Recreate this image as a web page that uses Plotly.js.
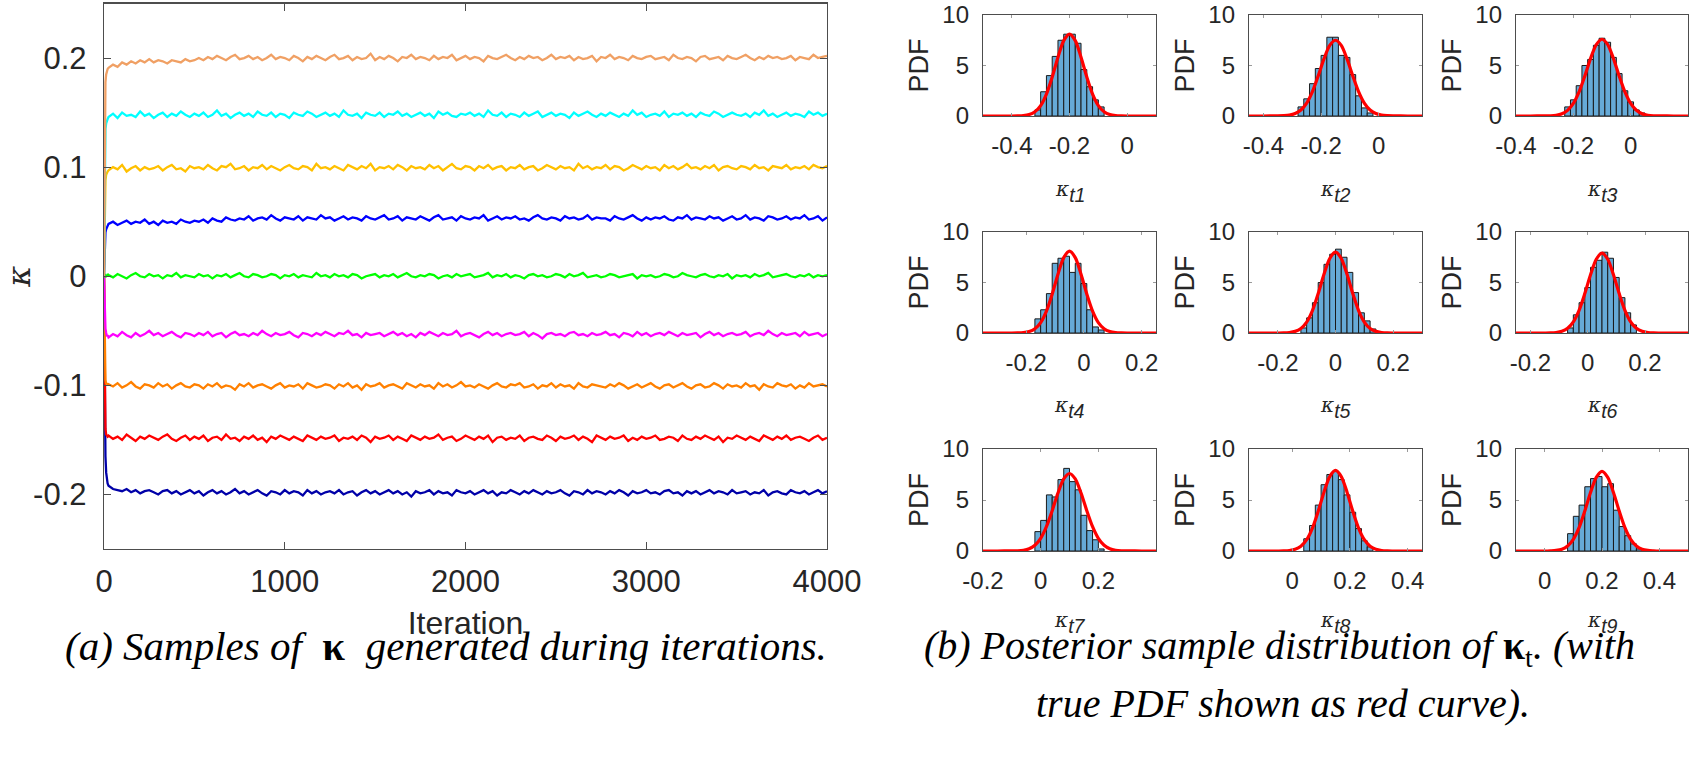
<!DOCTYPE html>
<html>
<head>
<meta charset="utf-8">
<script src="https://cdn.plot.ly/plotly-3.0.1.min.js"></script>
<style>
  html, body { margin: 0; padding: 0; background: #ffffff; }
  #chart { width: 1693px; height: 761px; }
</style>
</head>
<body>
<div id="chart"></div>
<script>
// ---------- (a) MCMC chains of kappa, values in units of 1e-3 ----------
const iterations = [0, 4, 8, 12, 16, 20];
for (let it = 25; it <= 4000; it += 25) iterations.push(it);

const chainT1 = [0,-120,-165,-180,-186,-190,
-192,-195,-196,-197,-195,-198,-196,-199,-197,-196,
-198,-200,-197,-196,-199,-197,-200,-198,-196,-199,
-197,-201,-198,-196,-199,-197,-200,-198,-195,-199,
-197,-200,-198,-196,-199,-201,-197,-198,-200,-196,
-199,-197,-198,-201,-196,-199,-197,-200,-198,-197,
-199,-196,-200,-198,-197,-201,-198,-196,-199,-197,
-200,-198,-196,-199,-197,-200,-198,-202,-197,-199,
-198,-196,-200,-197,-199,-198,-201,-196,-198,-199,
-197,-200,-198,-196,-199,-197,-201,-198,-199,-196,
-198,-200,-197,-199,-196,-198,-200,-197,-199,-198,
-196,-199,-201,-197,-198,-200,-196,-199,-197,-198,
-200,-197,-199,-196,-198,-201,-197,-199,-198,-196,
-199,-198,-200,-197,-196,-199,-198,-201,-197,-199,
-197,-200,-198,-196,-199,-197,-198,-200,-196,-199,
-198,-197,-200,-198,-199,-196,-201,-198,-197,-199,
-200,-196,-198,-199,-197,-200,-198,-196,-199,-197];

const chainT2 = [0,-110,-140,-145,-146,-147,
-146,-149,-147,-150,-145,-148,-151,-147,-149,-146,
-148,-150,-147,-145,-149,-151,-148,-146,-150,-147,
-149,-146,-151,-148,-147,-150,-145,-149,-148,-151,
-147,-149,-146,-150,-148,-152,-147,-149,-146,-148,
-150,-147,-149,-151,-146,-148,-150,-147,-149,-148,
-146,-151,-148,-149,-147,-150,-146,-148,-152,-147,
-149,-148,-146,-150,-147,-149,-151,-146,-148,-150,
-147,-149,-148,-145,-150,-148,-147,-151,-149,-146,
-148,-150,-147,-149,-146,-152,-148,-147,-150,-148,
-149,-146,-151,-148,-147,-149,-150,-146,-148,-151,
-147,-149,-148,-146,-150,-147,-149,-152,-146,-148,
-150,-147,-149,-148,-146,-151,-148,-150,-147,-149,
-148,-146,-150,-149,-147,-148,-151,-146,-149,-150,
-147,-149,-146,-148,-150,-147,-152,-148,-149,-146,
-148,-150,-147,-149,-151,-146,-148,-150,-147,-149,
-146,-150,-148,-147,-149,-151,-148,-146,-150,-148];

const chainT3 = [0,-75,-95,-99,-98,-100,
-99,-101,-98,-102,-100,-97,-101,-103,-99,-100,
-102,-98,-101,-99,-103,-100,-98,-101,-102,-99,
-100,-103,-99,-101,-98,-102,-100,-101,-104,-99,
-101,-98,-102,-100,-99,-101,-103,-100,-98,-102,
-100,-101,-99,-103,-98,-100,-102,-101,-99,-100,
-103,-99,-101,-98,-102,-100,-104,-99,-101,-100,
-98,-102,-100,-99,-101,-103,-98,-100,-102,-99,
-101,-100,-103,-98,-101,-99,-102,-100,-97,-101,
-100,-102,-99,-101,-103,-100,-98,-101,-102,-99,
-100,-98,-102,-101,-99,-103,-100,-101,-98,-102,
-99,-101,-100,-103,-98,-101,-102,-99,-100,-101,
-102,-99,-101,-98,-100,-103,-101,-99,-102,-100,
-98,-101,-103,-100,-99,-102,-100,-98,-101,-103,
-100,-99,-102,-101,-98,-100,-103,-99,-101,-100,
-102,-98,-101,-100,-104,-99,-101,-102,-98,-100,
-101,-99,-103,-100,-102,-98,-101,-100,-99,-101];

const chainT4 = [0,-30,-48,-52,-55,-54,
-56,-53,-55,-51,-54,-56,-52,-55,-53,-50,
-54,-52,-55,-53,-51,-54,-56,-52,-53,-55,
-52,-54,-51,-55,-53,-52,-56,-53,-51,-54,
-53,-55,-52,-54,-50,-53,-55,-52,-54,-53,
-51,-54,-56,-52,-53,-55,-52,-54,-51,-53,
-55,-52,-53,-50,-54,-53,-56,-52,-54,-53,
-52,-55,-53,-51,-54,-52,-55,-53,-56,-52,
-54,-51,-53,-55,-52,-54,-53,-50,-55,-53,
-52,-54,-56,-53,-51,-54,-52,-55,-53,-52,
-54,-53,-51,-55,-52,-54,-57,-53,-52,-54,
-53,-55,-52,-51,-54,-53,-55,-52,-54,-53,
-51,-54,-53,-56,-52,-53,-55,-51,-54,-52,
-55,-53,-52,-54,-51,-53,-55,-52,-54,-53,
-52,-56,-53,-51,-54,-52,-55,-53,-52,-54,
-53,-51,-55,-53,-52,-54,-50,-53,-55,-52,
-54,-53,-52,-55,-51,-54,-53,-52,-55,-53];

const chainT5 = [0,2,-1,1,0,2,
1,-1,2,0,-2,1,3,0,-1,2,
0,1,-2,1,0,3,-1,1,0,-1,
2,0,1,-2,1,0,2,-1,1,3,
0,-1,2,1,-1,0,2,1,-2,1,
0,2,-1,1,0,-1,3,0,1,-1,
2,0,1,-1,2,1,-2,0,1,2,
-1,1,0,2,-1,1,3,0,-1,1,
0,2,1,-2,0,1,-1,2,0,1,
2,-1,0,1,3,-1,1,0,2,-1,
1,0,-2,1,2,0,1,-1,0,2,
1,-1,2,0,1,3,-1,0,1,-1,
0,2,1,-1,0,1,2,-2,1,0,
1,-1,0,2,1,-1,0,3,1,0,
-1,1,2,0,-1,1,0,2,-2,1,
0,1,-1,2,0,1,3,-1,0,1,
2,0,-1,1,0,2,-1,1,0,1];

const chainT6 = [0,35,40,43,45,46,
48,50,47,49,51,48,50,49,52,48,
50,47,51,49,50,48,52,50,49,51,
50,52,49,53,51,50,54,52,51,53,
52,55,51,53,54,52,56,53,51,54,
53,52,55,51,54,53,52,56,53,54,
51,53,55,52,54,53,51,55,53,52,
54,56,52,53,55,51,54,53,52,55,
53,51,54,56,52,53,54,51,55,53,
52,54,53,56,51,53,55,52,54,53,
55,52,53,51,54,56,53,52,54,53,
51,55,53,54,52,53,56,52,54,53,
53,51,55,53,52,54,56,53,51,54,
52,54,53,55,52,51,54,53,56,52,
54,53,52,55,53,54,51,53,55,52,
53,56,52,54,53,51,55,54,52,53,
55,52,54,53,56,52,53,55,51,54];

const chainT7 = [0,70,88,93,95,96,
97,100,98,102,96,99,101,97,100,98,
99,101,97,100,102,98,99,96,101,99,
100,98,102,99,97,101,100,103,98,99,
101,97,100,99,102,98,101,99,97,100,
102,99,98,101,100,97,103,99,100,98,
101,99,97,102,100,98,101,99,103,97,
100,99,101,98,102,100,97,101,99,100,
98,102,99,101,97,100,103,99,98,101,
100,97,101,99,102,98,100,101,97,100,
99,102,98,100,101,97,99,102,100,98,
101,99,100,97,103,99,101,98,100,99,
102,98,101,100,97,99,102,100,98,101,
99,100,97,102,99,101,98,100,103,99,
100,98,101,99,102,97,100,101,99,98,
101,100,98,102,99,100,97,101,100,99,
102,98,100,99,101,98,102,100,99,101];

const chainT8 = [0,110,135,140,143,144,
146,149,145,150,147,148,146,151,147,149,
145,148,150,146,149,147,151,148,146,149,
147,150,146,148,152,147,149,145,148,150,
147,149,146,151,148,147,150,146,149,148,
145,150,148,147,151,149,146,148,150,147,
149,146,152,148,147,149,145,150,148,147,
150,146,149,148,151,147,149,146,148,150,
147,149,145,151,148,150,147,146,149,148,
150,147,149,146,152,148,147,150,146,149,
148,146,150,147,149,151,146,148,150,147,
149,148,145,150,147,149,151,148,146,149,
147,150,148,146,149,147,152,148,150,146,
148,149,147,151,146,149,148,150,147,149,
146,150,148,147,151,149,146,148,150,148,
147,149,146,150,148,152,147,149,146,148,
150,147,149,148,146,151,148,150,147,149];

const chainT9 = [0,150,178,185,188,190,
191,194,192,196,194,197,195,198,196,199,
196,198,197,195,198,197,196,199,197,198,
200,198,201,199,202,200,198,201,203,199,
200,202,199,201,198,200,203,199,201,200,
198,202,200,197,201,199,202,200,198,201,
203,199,200,202,198,201,199,200,204,198,
201,199,202,200,197,201,200,203,199,201,
200,198,202,199,201,200,203,198,200,202,
199,201,200,197,202,200,199,201,203,200,
198,201,199,202,200,201,198,200,203,199,
201,200,202,198,201,199,200,202,197,201,
200,203,199,201,200,198,202,200,199,201,
202,199,200,201,198,203,200,199,201,200,
197,201,202,199,200,201,198,202,200,199,
201,203,200,198,201,199,202,200,201,199,
200,202,198,201,200,199,203,200,201,202];

const chains = [chainT1, chainT2, chainT3, chainT4, chainT5, chainT6, chainT7, chainT8, chainT9];
const chainColors = ['#0000A8', '#FF0000', '#FF8000', '#FF00FF', '#00FF00', '#0000FF', '#FFC000', '#00FFFF', '#F0A064'];

// ---------- (b) posterior histograms (pdf-normalised, bin width 0.02) ----------
const subLabels = ['t1', 't2', 't3', 't4', 't5', 't6', 't7', 't8', 't9'];
const trueMeans = [-0.2, -0.15, -0.1, -0.05, 0, 0.05, 0.1, 0.15, 0.2];
const binWidth = 0.02;
const binStarts = [-0.32, -0.28, -0.23, -0.17, -0.12, -0.07, -0.02, 0.04, 0.08];

const histT1 = [0.6, 2.4, 4.0, 5.9, 7.5, 8.1, 8.1, 7.2, 4.6, 2.9, 1.6, 0.9];
const histT2 = [0.9, 1.7, 3.2, 4.7, 6.0, 7.8, 7.8, 6.0, 5.8, 4.1, 2.0, 0.8, 0.3];
const histT3 = [0.9, 1.6, 3.0, 5.0, 5.6, 7.0, 7.7, 7.3, 5.8, 4.2, 2.5, 1.4, 0.6, 0.3];
const histT4 = [1.4, 2.3, 3.9, 6.9, 7.4, 7.6, 6.0, 6.9, 4.9, 2.3, 0.6, 0.3];
const histT5 = [0.5, 1.5, 3.0, 5.0, 6.8, 7.8, 8.3, 7.5, 6.0, 4.0, 2.0, 1.2, 0.4];
const histT6 = [0.5, 1.8, 3.0, 4.5, 6.5, 7.2, 8.0, 7.4, 5.5, 3.5, 2.0, 0.8];
const histT7 = [1.9, 3.0, 5.5, 5.3, 7.0, 8.1, 6.8, 6.0, 3.5, 2.0, 1.1, 0.2];
const histT8 = [1.2, 2.5, 4.5, 6.5, 7.5, 7.8, 7.0, 5.5, 3.8, 2.2, 1.0, 0.4];
const histT9 = [1.7, 3.4, 4.5, 6.3, 7.1, 7.3, 6.3, 6.6, 4.0, 2.4, 1.5, 0.7, 0.2];
const hists = [histT1, histT2, histT3, histT4, histT5, histT6, histT7, histT8, histT9];

// true pdf (red curve), sampled at offsets from each true mean
const pdfOffsets = [-0.30, -0.25, -0.20, -0.18, -0.16, -0.14, -0.12, -0.10, -0.08, -0.06, -0.04, -0.02, 0,
                     0.02, 0.04, 0.06, 0.08, 0.10, 0.12, 0.14, 0.16, 0.18, 0.20, 0.25, 0.30];
const pdfT1 = [0,0,0,0.01,0.04,0.14,0.42,1.03,2.17,3.86,5.82,7.46,8.1,7.46,5.82,3.86,2.17,1.03,0.42,0.14,0.04,0.01,0,0,0];
const pdfT2 = [0,0,0.01,0.03,0.08,0.24,0.59,1.28,2.42,3.97,5.65,6.99,7.5,6.99,5.65,3.97,2.42,1.28,0.59,0.24,0.08,0.03,0.01,0,0];
const pdfT3 = [0,0,0.01,0.02,0.07,0.22,0.56,1.24,2.38,3.95,5.68,7.07,7.6,7.07,5.68,3.95,2.38,1.24,0.56,0.22,0.07,0.02,0.01,0,0];
const pdfT4 = [0,0,0,0.01,0.04,0.14,0.42,1.03,2.17,3.86,5.82,7.46,8.1,7.46,5.82,3.86,2.17,1.03,0.42,0.14,0.04,0.01,0,0,0];
const pdfT5 = [0,0,0,0.01,0.05,0.16,0.45,1.08,2.22,3.90,5.81,7.38,8.0,7.38,5.81,3.90,2.22,1.08,0.45,0.16,0.05,0.01,0,0,0];
const pdfT6 = [0,0,0,0.01,0.05,0.17,0.47,1.11,2.25,3.90,5.77,7.30,7.9,7.30,5.77,3.90,2.25,1.11,0.47,0.17,0.05,0.01,0,0,0];
const pdfT7 = [0,0,0.01,0.02,0.07,0.22,0.56,1.24,2.38,3.95,5.68,7.07,7.6,7.07,5.68,3.95,2.38,1.24,0.56,0.22,0.07,0.02,0.01,0,0];
const pdfT8 = [0,0,0,0.01,0.05,0.17,0.47,1.11,2.25,3.90,5.77,7.30,7.9,7.30,5.77,3.90,2.25,1.11,0.47,0.17,0.05,0.01,0,0,0];
const pdfT9 = [0,0,0,0.02,0.06,0.18,0.50,1.15,2.29,3.92,5.74,7.22,7.8,7.22,5.74,3.92,2.29,1.15,0.50,0.18,0.06,0.02,0,0,0];
const pdfs = [pdfT1, pdfT2, pdfT3, pdfT4, pdfT5, pdfT6, pdfT7, pdfT8, pdfT9];

const subTickVals = [[-0.4,-0.2,0],[-0.4,-0.2,0],[-0.4,-0.2,0],[-0.2,0,0.2],[-0.2,0,0.2],[-0.2,0,0.2],[-0.2,0,0.2],[0,0.2,0.4],[0,0.2,0.4]];

// ---------- page geometry (pixels of the 1693x761 figure) ----------
const W = 1693, H = 761;
const fx = p => p / W;
const fy = p => 1 - p / H;
const SANS = 'Liberation Sans, Arial, Helvetica, sans-serif';
const SERIF = 'Liberation Serif, Times New Roman, serif';
const INK = '#262626';
const FRAME = '#4d4d4d';
const KAPPA = '<span style="font-family:DejaVu Serif;font-style:italic">κ</span>';

const colLeft = [983, 1249, 1516];
const colRight = [1156, 1422, 1688];
const rowTop = [15, 232, 449];
const rowBottom = [116, 333, 551];
const labelY = [191, 407, 622];

const data = [];
const layout = {
  width: W, height: H,
  margin: {l: 0, r: 0, t: 0, b: 0},
  paper_bgcolor: '#ffffff', plot_bgcolor: '#ffffff',
  showlegend: false, hovermode: false,
  font: {family: SANS, color: INK},
  annotations: []
};

// chains
chains.forEach((c, i) => {
  data.push({
    type: 'scatter', mode: 'lines', xaxis: 'x', yaxis: 'y',
    x: iterations, y: c.map(v => v / 1000),
    line: {color: chainColors[i], width: 2.3}
  });
});

layout.xaxis = {
  domain: [fx(104), fx(827)], range: [0, 4000], anchor: 'y',
  showline: true, mirror: 'ticks', linecolor: FRAME, linewidth: 1.3,
  ticks: 'inside', ticklen: 7, tickcolor: FRAME, tickwidth: 1,
  tickvals: [0, 1000, 2000, 3000, 4000], ticktext: ['0', '1000', '2000', '3000', '4000'],
  tickfont: {size: 31, color: INK, family: SANS}, ticklabelstandoff: 4,
  showgrid: false, zeroline: false,
  title: {text: 'Iteration', font: {size: 32, color: INK, family: SANS}, standoff: 14}
};
layout.yaxis = {
  domain: [fy(549), fy(3.5)], range: [-0.25, 0.25], anchor: 'x',
  showline: true, mirror: 'ticks', linecolor: FRAME, linewidth: 1.3,
  ticks: 'inside', ticklen: 7, tickcolor: FRAME, tickwidth: 1,
  tickvals: [-0.2, -0.1, 0, 0.1, 0.2], ticktext: ['-0.2', '-0.1', '0', '0.1', '0.2'],
  tickfont: {size: 31, color: INK, family: SANS}, ticklabelstandoff: 10,
  showgrid: false, zeroline: false,
  title: {text: KAPPA, font: {size: 32, color: INK, family: SANS}, standoff: 10}
};

// histogram panels
for (let k = 0; k < 9; k++) {
  const n = k + 2;
  const xa = 'x' + n, ya = 'y' + n;
  const r = Math.floor(k / 3), c = k % 3;
  const m = trueMeans[k];
  const h = hists[k];
  const centers = h.map((_, j) => binStarts[k] + (j + 0.5) * binWidth);
  data.push({
    type: 'bar', xaxis: xa, yaxis: ya,
    x: centers, y: h, width: binWidth,
    marker: {color: '#66AAD7', line: {color: '#1a1a1a', width: 1}}
  });
  data.push({
    type: 'scatter', mode: 'lines', xaxis: xa, yaxis: ya,
    x: pdfOffsets.map(d => m + d), y: pdfs[k],
    line: {color: '#FF0000', width: 3.2, shape: 'spline', smoothing: 0.8}
  });
  const tv = subTickVals[k];
  layout['xaxis' + n] = {
    domain: [fx(colLeft[c]), fx(colRight[c])], range: [m - 0.3, m + 0.3], anchor: ya,
    showline: true, mirror: 'ticks', linecolor: FRAME, linewidth: 1.2,
    ticks: 'inside', ticklen: 3, tickcolor: '#9a9a9a', tickwidth: 1,
    tickvals: tv, ticktext: tv.map(v => (v === 0 ? '0' : String(v))),
    tickfont: {size: 24, color: INK, family: SANS}, ticklabelstandoff: 8,
    showgrid: false, zeroline: false
  };
  layout['yaxis' + n] = {
    domain: [fy(rowBottom[r]), fy(rowTop[r])], range: [0, 10], anchor: xa,
    showline: true, mirror: 'ticks', linecolor: FRAME, linewidth: 1.2,
    ticks: 'inside', ticklen: 3, tickcolor: '#9a9a9a', tickwidth: 1,
    tickvals: [0, 5, 10], ticktext: ['0', '5', '10'],
    tickfont: {size: 24, color: INK, family: SANS}, ticklabelstandoff: 8,
    showgrid: false, zeroline: false
  };
  layout.annotations.push({
    xref: 'paper', yref: 'paper', x: fx(colLeft[c] - 64), y: fy((rowTop[r] + rowBottom[r]) / 2),
    text: 'PDF', textangle: -90, showarrow: false, xanchor: 'center', yanchor: 'middle',
    font: {size: 27, color: INK, family: SANS}
  });
  layout.annotations.push({
    xref: 'paper', yref: 'paper', x: fx((colLeft[c] + colRight[c]) / 2), y: fy(labelY[r]),
    text: '<span style="font-family:DejaVu Serif;font-style:italic;font-size:20px">κ</span><sub><i>' + subLabels[k] + '</i></sub>',
    showarrow: false, xanchor: 'center', yanchor: 'middle',
    font: {size: 28, color: INK, family: SANS}
  });
}

// captions
layout.annotations.push({
  xref: 'paper', yref: 'paper', x: fx(446), y: fy(646), xanchor: 'center', yanchor: 'middle',
  showarrow: false, font: {size: 41, color: '#000000', family: SERIF},
  text: '<i>(a) Samples of </i> <b>κ</b>  <i>generated during iterations.</i>'
});
layout.annotations.push({
  xref: 'paper', yref: 'paper', x: fx(1279), y: fy(648), xanchor: 'center', yanchor: 'middle',
  showarrow: false, font: {size: 40, color: '#000000', family: SERIF},
  text: '<i>(b) Posterior sample distribution of </i><b>κ</b><sub>t</sub><i>. (with</i>'
});
layout.annotations.push({
  xref: 'paper', yref: 'paper', x: fx(1283), y: fy(703), xanchor: 'center', yanchor: 'middle',
  showarrow: false, font: {size: 40, color: '#000000', family: SERIF},
  text: '<i>true PDF shown as red curve).</i>'
});

Plotly.newPlot('chart', data, layout, {staticPlot: true, displayModeBar: false});
</script>
</body>
</html>
